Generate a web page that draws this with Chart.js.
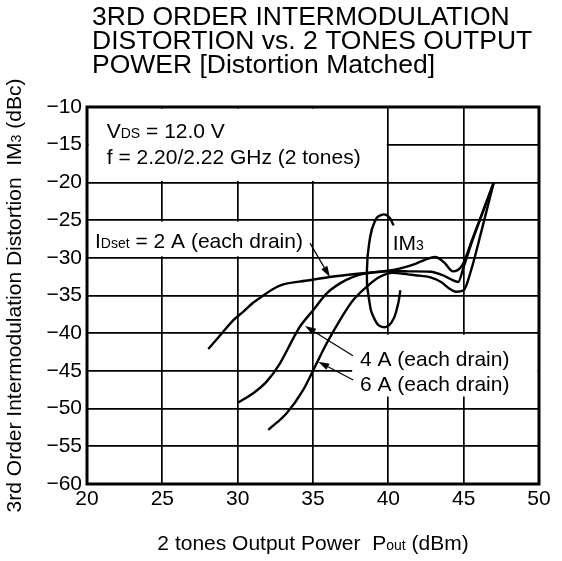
<!DOCTYPE html>
<html><head><meta charset="utf-8">
<script src="https://cdn.jsdelivr.net/npm/chart.js@4.4.0/dist/chart.umd.min.js"></script>
<style>html,body{margin:0;padding:0;background:#fff;}canvas{display:block;}</style>
</head><body>
<canvas id="c" width="562" height="561"></canvas>
<script>
// ---- data ----
const xTicks = [20, 25, 30, 35, 40, 45, 50];
const yTicks = [-10, -15, -20, -25, -30, -35, -40, -45, -50, -55, -60];

const pout2A = [28.05, 29.0, 29.7, 30.4, 31.0, 31.7, 32.3, 32.8, 33.3, 34.5, 36.1, 38.5, 40.0, 40.8, 41.8, 42.5, 43.1, 43.7, 44.3, 44.9, 45.6, 46.3, 47.0];
const im3_2A  = [-42.1, -39.9, -38.3, -37.1, -36.0, -35.0, -34.2, -33.7, -33.4, -33.05, -32.55, -32.0, -31.7, -31.4, -30.8, -30.2, -29.9, -30.6, -31.8, -31.0, -27.4, -23.7, -20.0];

const pout4A = [30.04, 31.03, 31.92, 32.81, 33.69, 34.13, 35.02, 35.91, 36.79, 37.67, 38.56, 39.5, 40.5, 41.5, 42.8, 43.6, 44.2, 44.64, 45.0, 45.6, 46.3, 47.0];
const im3_4A  = [-49.2, -47.96, -46.42, -43.99, -40.68, -39.14, -36.93, -34.72, -33.39, -32.52, -32.07, -31.85, -31.75, -31.8, -31.85, -32.3, -32.9, -33.2, -31.2, -27.6, -23.8, -20.0];

const pout6A = [32.03, 33.25, 34.35, 35.13, 35.91, 36.79, 37.67, 38.56, 39.44, 40.3, 41.3, 42.2, 42.8, 43.5, 44.0, 44.5, 45.0, 45.5, 46.2, 47.0];
const im3_6A  = [-52.82, -50.61, -47.52, -44.44, -41.34, -38.25, -35.6, -33.84, -32.52, -32.0, -32.2, -32.4, -32.6, -33.2, -34.0, -34.5, -34.3, -31.6, -26.3, -20.0];

// IM3 marker loop (open ellipse)
const loopX = [40.35, 40.0, 39.55, 39.1, 38.75, 38.58, 38.72, 39.1, 39.65, 40.2, 40.6, 40.8];
const loopY = [-25.7, -24.5, -24.3, -25.2, -27.8, -31.6, -35.5, -38.2, -39.2, -38.6, -36.5, -34.3];

// leader arrows: tail -> head (data units)
const arrowTailX = [34.8, 37.65, 37.67];
const arrowTailY = [-28.05, -43.0, -46.2];
const arrowHeadX = [36.12, 34.47, 35.35];
const arrowHeadY = [-32.56, -39.05, -43.77];

// ---- helpers ----
const FAM = '"Liberation Sans", Arial, Helvetica, sans-serif';
const F = s => s + 'px ' + FAM;
function rich(ctx, parts, x, y, align) {
  let w = 0;
  parts.forEach(p => { ctx.font = F(p[1]); w += ctx.measureText(p[0]).width; });
  let cx = align === 'center' ? x - w / 2 : (align === 'right' ? x - w : x);
  ctx.textAlign = 'left'; ctx.textBaseline = 'alphabetic';
  parts.forEach(p => { ctx.font = F(p[1]); ctx.fillText(p[0], cx, y); cx += ctx.measureText(p[0]).width; });
}
const pts = (xs, ys) => xs.map((v, i) => ({ x: v, y: ys[i] }));

const curve = (label, xs, ys) => ({
  label, data: pts(xs, ys), borderColor: '#000', borderWidth: 2.4,
  pointRadius: 0, fill: false, cubicInterpolationMode: 'monotone'
});

// white label backgrounds, in data units [x0, x1, y0, y1]
const whiteBoxes = [
  [20, 40, -10, -20],
  [20, 34.8, -25, -30],
  [37.5, 50, -40, -48.6]
];

const overlay = {
  id: 'overlay',
  beforeDatasetsDraw(chart) {
    const { ctx, chartArea: a, scales: { x, y } } = chart;
    ctx.save();
    ctx.fillStyle = '#fff';
    whiteBoxes.forEach(b => {
      const x0 = x.getPixelForValue(b[0]), x1 = x.getPixelForValue(b[1]);
      const y0 = y.getPixelForValue(b[2]), y1 = y.getPixelForValue(b[3]);
      ctx.fillRect(Math.min(x0, x1) + 1.5, Math.min(y0, y1) + 1.5, Math.abs(x1 - x0) - 3, Math.abs(y1 - y0) - 3);
    });
    ctx.strokeStyle = '#000'; ctx.lineWidth = 3;
    ctx.strokeRect(a.left, a.top, a.right - a.left, a.bottom - a.top);
    ctx.fillStyle = '#000';
    const P = (vx, vy) => [x.getPixelForValue(vx), y.getPixelForValue(vy)];
    let p;
    p = P(21.31, -14.15); rich(ctx, [['V', 21], ['DS', 14], [' = 12.0 V', 21]], p[0], p[1]);
    p = P(21.31, -17.52); rich(ctx, [['f = 2.20/2.22 GHz (2 tones)', 21]], p[0], p[1]);
    p = P(20.53, -28.71); rich(ctx, [['I', 21], ['Dset', 14], [' = 2 A (each drain)', 21]], p[0], p[1]);
    p = P(40.29, -28.98); rich(ctx, [['IM', 21], ['3', 14]], p[0], p[1]);
    p = P(38.12, -44.34); rich(ctx, [['4 A (each drain)', 21]], p[0], p[1]);
    p = P(38.12, -47.65); rich(ctx, [['6 A (each drain)', 21]], p[0], p[1]);
    // arrows
    ctx.lineWidth = 1.2;
    for (let i = 0; i < arrowTailX.length; i++) {
      const t = P(arrowTailX[i], arrowTailY[i]), h = P(arrowHeadX[i], arrowHeadY[i]);
      const ang = Math.atan2(h[1] - t[1], h[0] - t[0]);
      const L = 11, W = 3.5;
      const bx = h[0] - L * Math.cos(ang), by = h[1] - L * Math.sin(ang);
      ctx.beginPath(); ctx.moveTo(t[0], t[1]); ctx.lineTo(bx, by); ctx.stroke();
      ctx.beginPath();
      ctx.moveTo(h[0], h[1]);
      ctx.lineTo(bx + W * Math.sin(ang), by - W * Math.cos(ang));
      ctx.lineTo(bx - W * Math.sin(ang), by + W * Math.cos(ang));
      ctx.closePath(); ctx.fill();
    }
    ctx.restore();
  },
  afterDraw(chart) {
    const { ctx, chartArea: a } = chart;
    ctx.save();
    ctx.fillStyle = '#000';
    rich(ctx, [['3RD ORDER INTERMODULATION', 26.5]], 92, 25);
    rich(ctx, [['DISTORTION vs. 2 TONES OUTPUT', 26.5]], 92, 49);
    rich(ctx, [['POWER [Distortion Matched]', 26.5]], 92, 73);
    rich(ctx, [['2 tones Output Power  P', 21], ['out', 14], [' (dBm)', 21]], (a.left + a.right) / 2, 550, 'center');
    ctx.translate(21, (a.top + a.bottom) / 2);
    ctx.rotate(-Math.PI / 2);
    rich(ctx, [['3rd Order Intermodulation Distortion  IM', 21], ['3', 14], [' (dBc)', 21]], 0, 0, 'center');
    ctx.restore();
  }
};

new Chart(document.getElementById('c'), {
  type: 'line',
  data: {
    datasets: [
      curve('2 A', pout2A, im3_2A),
      curve('4 A', pout4A, im3_4A),
      curve('6 A', pout6A, im3_6A),
      { label: 'IM3 loop', data: pts(loopX, loopY), borderColor: '#000', borderWidth: 2.4, pointRadius: 0, fill: false, tension: 0.5 }
    ]
  },
  options: {
    responsive: false, animation: false, devicePixelRatio: 1,
    layout: { padding: { top: 107, right: 23, left: 0, bottom: 0 } },
    plugins: { legend: { display: false }, tooltip: { enabled: false }, title: { display: false } },
    scales: {
      x: {
        type: 'linear', min: 20, max: 50,
        afterBuildTicks: s => { s.ticks = xTicks.map(v => ({ value: v })); },
        afterFit: s => { s.height = 77; },
        grid: { color: '#000', lineWidth: 1.7, drawTicks: false },
        border: { display: false },
        ticks: { color: '#000', font: { family: FAM, size: 21 }, padding: 3, maxRotation: 0 }
      },
      y: {
        type: 'linear', min: -60, max: -10,
        afterBuildTicks: s => { s.ticks = yTicks.map(v => ({ value: v })); },
        afterFit: s => { s.width = 87; },
        grid: { color: '#000', lineWidth: 1.7, drawTicks: false },
        border: { display: false },
        ticks: { color: '#000', font: { family: FAM, size: 21 }, padding: 5,
          callback: v => (v < 0 ? '\u2212' + Math.abs(v) : '' + v) }
      }
    }
  },
  plugins: [overlay]
});
</script>
</body></html>
